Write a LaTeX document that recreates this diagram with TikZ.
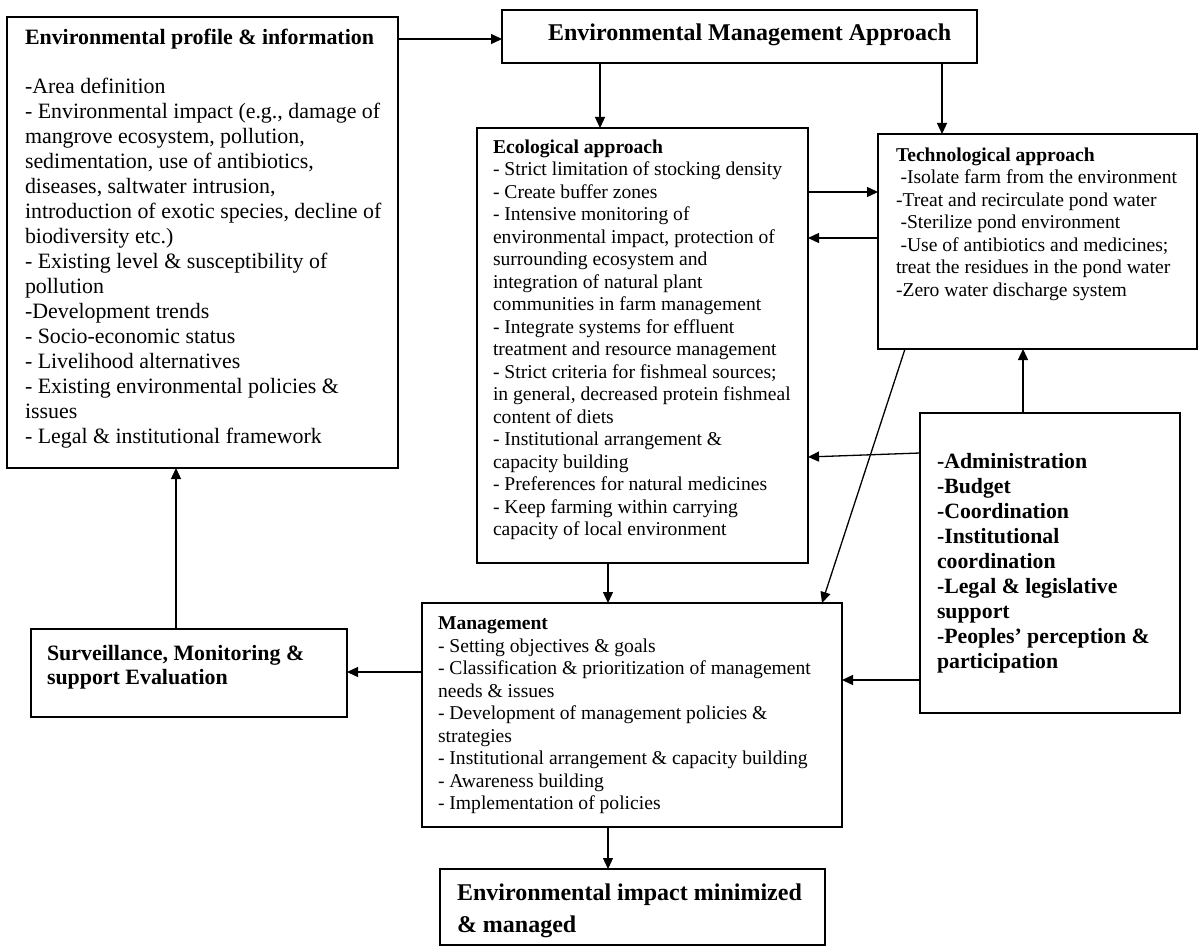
\documentclass[tikz,border=0pt]{standalone}
\usepackage{fontspec}
\setmainfont{Liberation Serif}
\usetikzlibrary{arrows.meta}
\newcommand{\mytop}{\rule{0pt}{18pt}}
\begin{document}
\begin{tikzpicture}[x=1pt,y=-1pt,
  box/.style={draw, line width=1.3pt, inner sep=0pt, outer sep=0pt},
  txt/.style={anchor=north west, inner sep=0pt, outer sep=0pt, align=left},
  big/.style={font=\fontsize{21.9}{25}\selectfont},
  small/.style={font=\fontsize{19.6}{22.5}\selectfont},
  huge/.style={font=\fontsize{24}{32}\selectfont\bfseries},
  arr/.style={line width=1.3pt, -{Triangle[length=11pt,width=10pt]}}]
\useasboundingbox[fill=white] (0,0) rectangle (1201,947);

% boxes
\node[box, minimum width=391pt, minimum height=451pt] (env) at (202.5,242.5) {};
\node[box, minimum width=475pt, minimum height=53pt] (ema) at (739.5,36.5) {};
\node[box, minimum width=331pt, minimum height=435pt] (eco) at (642.5,345.5) {};
\node[box, minimum width=319pt, minimum height=215pt] (tech) at (1037.5,241.5) {};
\node[box, minimum width=260pt, minimum height=300pt] (admin) at (1050,563) {};
\node[box, minimum width=420pt, minimum height=224pt] (mgmt) at (632,715) {};
\node[box, minimum width=316pt, minimum height=88pt] (surv) at (189,673) {};
\node[box, minimum width=385pt, minimum height=76pt] (res) at (632.5,907) {};

% texts
\node[txt, big] (envt) at (25,27) {\mytop\textbf{Environmental profile \& information}};
\node[txt, big] (envb) at (25,75) {\mytop-Area definition\\
- Environmental impact (e.g., damage of\\
mangrove ecosystem, pollution,\\
sedimentation, use of antibiotics,\\
diseases, saltwater intrusion,\\
introduction of exotic species, decline of\\
biodiversity etc.)\\
- Existing level \& susceptibility of\\
pollution\\
-Development trends\\
- Socio-economic status\\
- Livelihood alternatives\\
- Existing environmental policies \&\\
issues\\
- Legal \& institutional framework};

\node[txt, huge] (emat) at (548,23) {\mytop Environmental Management Approach};

\node[txt, small] (ecot) at (493,135) {\mytop\textbf{Ecological approach}\\
- Strict limitation of stocking density\\
- Create buffer zones\\
- Intensive monitoring of\\
environmental impact, protection of\\
surrounding ecosystem and\\
integration of natural plant\\
communities in farm management\\
- Integrate systems for effluent\\
treatment and resource management\\
- Strict criteria for fishmeal sources;\\
in general, decreased protein fishmeal\\
content of diets\\
- Institutional arrangement \&\\
capacity building\\
- Preferences for natural medicines\\
- Keep farming within carrying\\
capacity of local environment};

\node[txt, small] (techt) at (896,143) {\mytop\textbf{Technological approach}\\
\hspace{4.5pt}-Isolate farm from the environment\\
-Treat and recirculate pond water\\
\hspace{4.5pt}-Sterilize pond environment\\
\hspace{4.5pt}-Use of antibiotics and medicines;\\
treat the residues in the pond water\\
-Zero water discharge system};

\node[txt, font=\fontsize{21.8}{25}\selectfont\bfseries] (admint) at (937,450) {\mytop-Administration\\
-Budget\\
-Coordination\\
-Institutional\\
coordination\\
-Legal \& legislative\\
support\\
-Peoples’ perception \&\\
participation};

\node[txt, small] (mgmtt) at (438,611.5) {\mytop\textbf{Management}\\
- Setting objectives \& goals\\
- Classification \& prioritization of management\\
needs \& issues\\
- Development of management policies \&\\
strategies\\
- Institutional arrangement \& capacity building\\
- Awareness building\\
- Implementation of policies};

\node[txt, font=\fontsize{21.9}{24.5}\selectfont\bfseries] (survt) at (47,642) {\mytop Surveillance, Monitoring \&\\
support Evaluation};

\node[txt, huge] (rest) at (457,882) {\mytop Environmental impact minimized\\
\& managed};

% connectors
\draw[arr] (env.east |- 0,39) -- (ema.west |- 0,39);
\draw[arr] (ema.south -| 600,0) -- (eco.north -| 600,0);
\draw[arr] (ema.south -| 942,0) -- (tech.north -| 942,0);
\draw[arr] (eco.east |- 0,192) -- (tech.west |- 0,192);
\draw[arr] (tech.west |- 0,238) -- (eco.east |- 0,238);
\draw[arr] (admin.west |- 0,453) -- (eco.east |- 0,457);
\draw[arr] (admin.north -| 1023,0) -- (tech.south -| 1023,0);
\draw[arr] (tech.south -| 905,0) -- (mgmt.north -| 822,0);
\draw[arr] (admin.west |- 0,680) -- (mgmt.east |- 0,680);
\draw[arr] (eco.south -| 608,0) -- (mgmt.north -| 608,0);
\draw[arr] (mgmt.west |- 0,672) -- (surv.east |- 0,672);
\draw[arr] (surv.north -| 176,0) -- (env.south -| 176,0);
\draw[arr] (mgmt.south -| 608,0) -- (res.north -| 608,0);
\end{tikzpicture}
\end{document}
